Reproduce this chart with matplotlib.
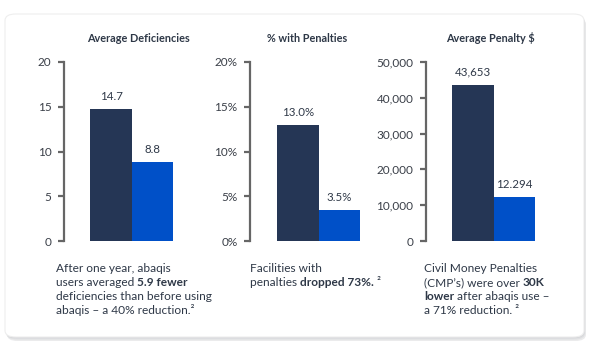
import matplotlib
matplotlib.use("Agg")
import matplotlib.pyplot as plt
from matplotlib.patches import FancyBboxPatch

plt.rcParams['font.family'] = ['Lato', 'DejaVu Sans']

titles = ["Average Deficiencies", "% with Penalties", "Average Penalty $"]
before_values = [14.7, 13.0, 43653]
after_values = [8.8, 3.5, 12294]
value_labels = [["14.7", "8.8"], ["13.0%", "3.5%"], ["43,653", "12.294"]]
y_ticks = [[0, 5, 10, 15, 20], [0, 5, 10, 15, 20], [0, 10000, 20000, 30000, 40000, 50000]]
y_tick_labels = [["0", "5", "10", "15", "20"],
                 ["0%", "5%", "10%", "15%", "20%"],
                 ["0", "10,000", "20,000", "30,000", "40,000", "50,000"]]
captions = [
    [[("After one year, abaqis", False)],
     [("users averaged ", False), ("5.9 fewer", True)],
     [("deficiencies than before using", False)],
     [("abaqis \u2013 a 40% reduction.\u00b2", False)]],
    [[("Facilities with", False)],
     [("penalties ", False), ("dropped 73%.", True), (" \u00b2", False)]],
    [[("Civil Money Penalties", False)],
     [("(CMP\u2019s) were over ", False), ("30K", True)],
     [("lower", True), (" after abaqis use \u2013", False)],
     [("a 71% reduction. \u00b2", False)]],
]

W, H = 592, 356
fig = plt.figure(figsize=(W / 100, H / 100), dpi=100)
fig.patch.set_facecolor("white")


def fx(px):
    return px / W


def fy(py):
    return 1 - py / H


# card with soft shadow
for k, (off, col) in enumerate([(4, "#ebebec"), (2.5, "#dfe0e2"), (1.2, "#d4d5d8")]):
    sh = FancyBboxPatch((fx(5 + off * 0.5), fy(337 + off)), fx(579), fy(14) - fy(337),
                        boxstyle="round,pad=0,rounding_size=0.018", transform=fig.transFigure,
                        facecolor=col, edgecolor="none", zorder=0)
    fig.patches.append(sh)
card = FancyBboxPatch((fx(5), fy(337)), fx(579), fy(14) - fy(337),
                      boxstyle="round,pad=0,rounding_size=0.018", transform=fig.transFigure,
                      facecolor="white", edgecolor="#eeeeee", linewidth=0.8, zorder=1)
fig.patches.append(card)

dark = "#253655"
blue = "#0050c8"
text_col = "#2e3847"
axis_col = "#666666"

lefts_px = [64, 250, 426]
dark_centers_px = [111, 298, 473]
unit_px = 41.5
top_px, bot_px = 62, 241
title_x_px = [138, 307, 490]
caption_x_px = [56, 250, 424]

for i in range(3):
    left = lefts_px[i]
    xmin = (left - dark_centers_px[i]) / unit_px
    xmax = 2.3
    width_px = (xmax - xmin) * unit_px
    ax = fig.add_axes([fx(left), fy(bot_px), fx(width_px), fy(top_px) - fy(bot_px)], zorder=2)
    ax.set_facecolor("none")
    ymax = y_ticks[i][-1]
    ax.set_xlim(xmin, xmax)
    ax.set_ylim(0, ymax)
    ax.bar([0], [before_values[i]], width=1.0, color=dark)
    ax.bar([1], [after_values[i]], width=1.0, color=blue)
    for xpos, val, lab in zip([0, 1], [before_values[i], after_values[i]], value_labels[i]):
        ax.annotate(lab, (xpos, val), xytext=(0, 5), textcoords="offset points",
                    ha="center", va="bottom", fontsize=8.3, color=text_col)
    for s in ["top", "right", "bottom"]:
        ax.spines[s].set_visible(False)
    ax.spines["left"].set_color(axis_col)
    ax.spines["left"].set_linewidth(1.6)
    ax.set_xticks([])
    ax.set_yticks(y_ticks[i])
    ax.set_yticklabels(y_tick_labels[i])
    ax.tick_params(axis="y", length=4, width=1.6, color=axis_col, labelsize=8.5,
                   labelcolor="#3a3f48", pad=5)
    fig.text(fx(title_x_px[i]), fy(38), titles[i], ha="center", va="center",
             fontsize=7.8, fontweight="bold", color=text_col)

    # captions with mixed weights
    for li, line in enumerate(captions[i]):
        ypx = 274 + li * 14
        last = None
        for seg, bold in line:
            kw = dict(fontsize=8.6, color=text_col, fontweight="bold" if bold else "normal",
                      ha="left", va="bottom")
            if last is None:
                last = fig.text(fx(caption_x_px[i]), fy(ypx), seg, **kw)
            else:
                last = fig.add_artist(plt.Annotation(seg, xy=(1, 0), xycoords=last, **kw))

fig.savefig("out.png", dpi=100)
